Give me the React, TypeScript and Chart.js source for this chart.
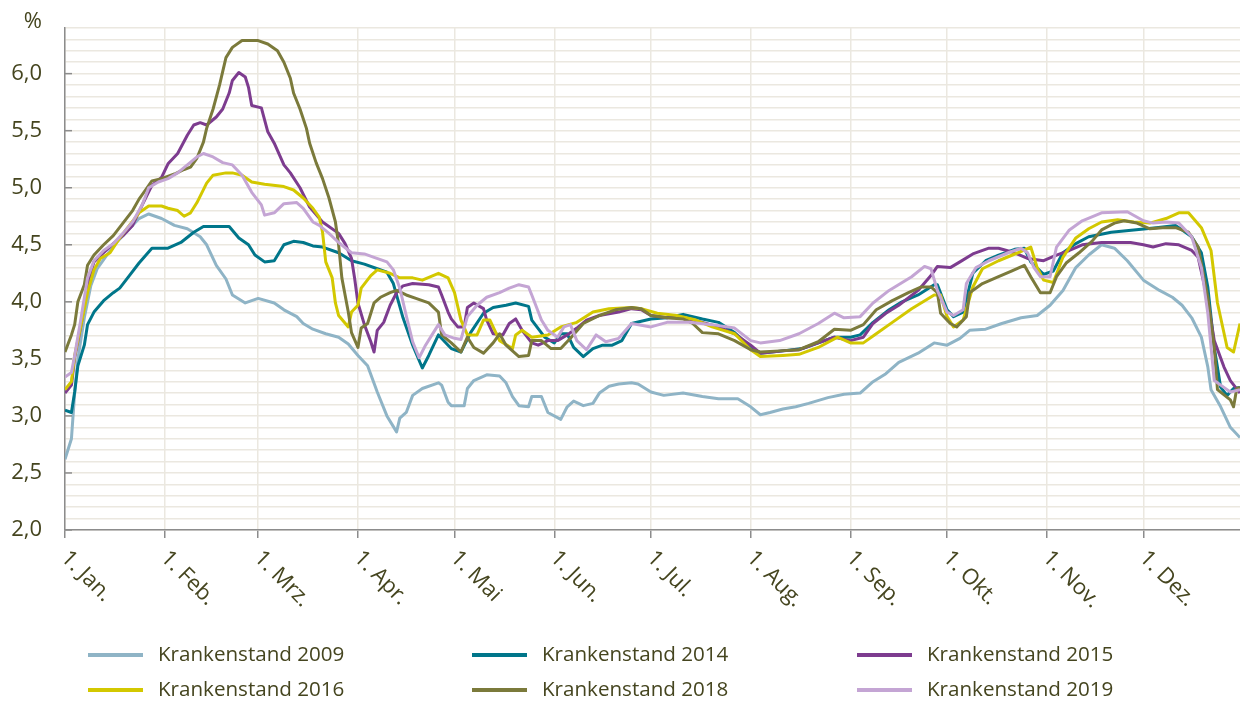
import React, { useEffect, useRef } from 'react';
import Chart from 'chart.js/auto';

// ---------- axis labels ----------
const MONTH_LABELS = ['1. Jan.', '1. Feb.', '1. Mrz.', '1. Apr.', '1. Mai', '1. Jun.', '1. Jul.', '1. Aug.', '1. Sep.', '1. Okt.', '1. Nov.', '1. Dez.'];
const MONTH_START_DAYS = [0, 31, 60, 91, 121, 152, 182, 213, 244, 274, 305, 335];
const Y_LABEL_VALUES = [2.0, 2.5, 3.0, 3.5, 4.0, 4.5, 5.0, 5.5, 6.0];
const Y_MIN = 2.0;
const Y_MAX = 6.4;
const X_MAX = 365;
const UNIT_LABEL = '%';

// ---------- series ----------
const SERIES_NAMES = ['Krankenstand 2009', 'Krankenstand 2014', 'Krankenstand 2015', 'Krankenstand 2016', 'Krankenstand 2018', 'Krankenstand 2019'];

const days2009 = [0,2,3,4,6,8,10,13,16,19,23,26,30,34,38,42,44,47,50,52,56,60,65,68,72,74,77,81,85,88,91,94,97,100,103,104,106,108,111,116,117,119,120,124,125,127,131,135,137,139,141,144,145,148,150,154,156,158,161,164,166,169,172,176,178,182,186,192,198,203,209,213,216,219,223,227,231,237,242,247,251,255,259,265,270,274,278,281,286,291,297,302,306,310,314,318,322,326,330,335,340,344,347,350,353,355,356,359,362,365];
const values2009 = [2.62,2.8,3.2,3.5,3.86,4.14,4.29,4.41,4.52,4.61,4.73,4.77,4.73,4.67,4.64,4.57,4.5,4.32,4.2,4.06,3.99,4.03,3.99,3.93,3.87,3.81,3.76,3.72,3.69,3.63,3.53,3.44,3.21,3.0,2.86,2.98,3.03,3.18,3.24,3.29,3.27,3.12,3.09,3.09,3.24,3.31,3.36,3.35,3.29,3.17,3.09,3.08,3.17,3.17,3.03,2.97,3.08,3.13,3.09,3.11,3.2,3.26,3.28,3.29,3.28,3.21,3.18,3.2,3.17,3.15,3.15,3.08,3.01,3.03,3.06,3.08,3.11,3.16,3.19,3.2,3.3,3.37,3.47,3.55,3.64,3.62,3.68,3.75,3.76,3.81,3.86,3.88,3.97,4.1,4.3,4.41,4.5,4.47,4.36,4.19,4.1,4.04,3.97,3.86,3.69,3.43,3.23,3.08,2.9,2.81];

const days2014 = [0,2,3,4,6,7,9,12,15,17,20,23,27,32,36,40,43,51,54,57,59,62,65,68,71,74,77,80,85,89,93,97,100,102,105,108,111,113,116,119,120,123,126,130,133,137,140,144,145,149,152,154,156,158,161,164,167,170,173,176,182,187,192,198,203,208,213,216,223,229,234,239,244,247,251,256,260,265,270,271,274,276,279,282,286,290,295,298,300,304,307,310,314,318,325,332,339,345,350,353,355,357,359,361,363,365];
const values2014 = [3.05,3.03,3.21,3.44,3.62,3.8,3.91,4.01,4.08,4.12,4.23,4.34,4.47,4.47,4.52,4.61,4.66,4.66,4.56,4.5,4.41,4.35,4.36,4.5,4.53,4.52,4.49,4.48,4.43,4.36,4.33,4.29,4.26,4.16,3.86,3.62,3.42,3.53,3.71,3.62,3.59,3.56,3.73,3.9,3.95,3.97,3.99,3.96,3.84,3.69,3.64,3.72,3.72,3.6,3.52,3.59,3.62,3.62,3.66,3.81,3.85,3.86,3.89,3.85,3.82,3.73,3.6,3.55,3.57,3.59,3.64,3.69,3.69,3.71,3.82,3.93,4.0,4.06,4.15,4.15,3.93,3.87,3.91,4.25,4.36,4.41,4.46,4.47,4.35,4.24,4.27,4.43,4.51,4.57,4.61,4.63,4.65,4.67,4.57,4.43,4.13,3.6,3.25,3.18,3.24,3.25];

const days2015 = [0,2,3,5,7,9,12,15,18,21,24,27,30,32,35,38,40,42,44,47,49,51,52,54,56,57,58,61,63,65,68,70,73,76,80,85,87,89,90,91,93,95,96,97,99,101,103,105,108,113,116,117,119,120,122,124,125,127,130,131,133,136,138,140,142,145,147,150,153,156,159,162,166,172,176,179,182,187,192,198,203,208,213,216,223,228,234,239,244,248,251,255,259,265,269,271,275,278,282,287,290,295,299,304,308,312,316,322,331,335,338,342,346,350,352,355,357,360,362,365];
const values2015 = [3.2,3.27,3.51,3.8,4.15,4.35,4.43,4.51,4.58,4.67,4.85,5.02,5.09,5.21,5.3,5.46,5.55,5.57,5.55,5.62,5.69,5.83,5.94,6.01,5.97,5.88,5.72,5.7,5.49,5.39,5.2,5.13,5.0,4.83,4.7,4.6,4.51,4.38,4.2,3.99,3.8,3.65,3.56,3.75,3.82,3.97,4.08,4.14,4.16,4.15,4.13,4.06,3.91,3.85,3.78,3.78,3.95,3.99,3.94,3.84,3.72,3.71,3.81,3.85,3.75,3.64,3.62,3.66,3.66,3.71,3.77,3.84,3.88,3.91,3.94,3.93,3.88,3.86,3.86,3.82,3.78,3.72,3.62,3.55,3.57,3.58,3.64,3.69,3.66,3.69,3.81,3.9,3.97,4.1,4.23,4.31,4.3,4.35,4.42,4.47,4.47,4.43,4.38,4.36,4.41,4.45,4.5,4.52,4.52,4.5,4.48,4.51,4.5,4.45,4.39,4.01,3.66,3.43,3.31,3.2];

const days2016 = [0,2,3,5,7,9,11,14,17,20,23,26,30,32,35,37,39,41,44,46,50,52,55,58,62,68,71,74,77,79,80,81,83,84,85,88,89,91,92,95,97,101,104,108,111,116,119,121,123,125,128,130,132,135,139,140,142,145,150,154,159,164,169,176,179,184,190,196,201,208,213,216,223,228,234,240,244,248,252,257,263,270,272,274,276,279,282,285,290,296,300,302,304,307,310,314,318,322,327,332,337,342,346,349,353,356,358,361,363,365];
const values2016 = [3.23,3.3,3.53,3.8,4.08,4.28,4.38,4.43,4.56,4.67,4.78,4.84,4.84,4.82,4.8,4.75,4.78,4.87,5.04,5.11,5.13,5.13,5.11,5.05,5.03,5.01,4.98,4.91,4.82,4.74,4.61,4.35,4.21,3.99,3.88,3.78,3.91,3.97,4.12,4.23,4.28,4.25,4.21,4.21,4.19,4.25,4.21,4.08,3.84,3.71,3.71,3.84,3.84,3.66,3.59,3.71,3.75,3.69,3.71,3.78,3.82,3.91,3.94,3.95,3.94,3.9,3.88,3.84,3.78,3.72,3.58,3.52,3.53,3.54,3.6,3.69,3.64,3.64,3.72,3.82,3.94,4.06,4.06,3.87,3.78,3.84,4.13,4.29,4.36,4.43,4.48,4.3,4.19,4.17,4.39,4.56,4.64,4.7,4.72,4.7,4.69,4.73,4.78,4.78,4.65,4.45,3.99,3.6,3.56,3.81];

const days2018 = [0,2,3,4,6,7,9,12,15,18,21,23,25,27,30,34,37,39,41,43,44,46,48,50,52,55,60,63,66,68,70,71,73,75,76,78,80,82,84,85,86,88,89,91,92,94,96,98,101,103,106,109,113,116,117,120,123,125,127,130,133,135,137,141,144,145,148,151,154,157,161,166,171,176,179,182,187,192,195,198,203,208,213,216,222,228,234,239,244,248,252,257,262,266,269,271,272,275,277,280,281,285,290,294,298,300,303,306,308,311,315,319,322,326,329,333,337,341,345,349,352,355,357,358,362,363,364,365];
const values2018 = [3.56,3.71,3.8,4.0,4.15,4.32,4.41,4.5,4.58,4.69,4.8,4.9,4.98,5.06,5.08,5.12,5.16,5.18,5.26,5.4,5.52,5.69,5.9,6.14,6.23,6.29,6.29,6.26,6.2,6.1,5.96,5.83,5.69,5.52,5.39,5.22,5.08,4.91,4.7,4.5,4.21,3.91,3.73,3.6,3.77,3.81,3.99,4.04,4.08,4.1,4.06,4.03,3.99,3.91,3.71,3.64,3.56,3.69,3.6,3.55,3.64,3.72,3.62,3.52,3.53,3.66,3.66,3.59,3.59,3.68,3.81,3.88,3.93,3.95,3.94,3.88,3.86,3.85,3.81,3.73,3.72,3.66,3.58,3.56,3.57,3.58,3.65,3.76,3.75,3.8,3.93,4.01,4.08,4.13,4.13,4.08,3.9,3.81,3.78,3.87,4.08,4.16,4.22,4.27,4.32,4.22,4.08,4.08,4.22,4.34,4.43,4.53,4.63,4.69,4.71,4.69,4.64,4.65,4.65,4.61,4.48,4.04,3.6,3.23,3.14,3.08,3.24,3.25];

const days2019 = [0,2,3,5,7,9,12,15,18,21,24,26,29,32,35,38,41,43,46,49,52,55,58,61,62,65,68,72,74,77,79,82,85,89,93,96,100,102,104,106,108,110,112,114,116,118,121,123,125,128,131,135,138,141,144,145,148,150,153,155,157,159,162,165,168,172,176,182,187,194,201,208,213,216,222,228,234,239,242,247,251,256,263,267,269,271,274,276,279,280,283,287,293,297,299,301,303,306,308,312,316,322,330,335,338,342,346,350,353,355,357,360,362,365];
const values2019 = [3.34,3.38,3.53,3.86,4.21,4.36,4.45,4.51,4.6,4.7,4.85,5.0,5.05,5.08,5.13,5.2,5.27,5.3,5.27,5.22,5.2,5.11,4.96,4.85,4.76,4.78,4.86,4.87,4.82,4.7,4.67,4.6,4.52,4.43,4.42,4.39,4.35,4.28,4.12,3.88,3.65,3.51,3.62,3.71,3.8,3.71,3.68,3.67,3.87,3.97,4.04,4.08,4.12,4.15,4.13,4.06,3.84,3.75,3.69,3.78,3.8,3.66,3.58,3.71,3.65,3.68,3.81,3.78,3.82,3.82,3.8,3.77,3.66,3.64,3.66,3.72,3.81,3.9,3.86,3.87,3.99,4.1,4.22,4.31,4.29,4.1,3.91,3.88,3.93,4.16,4.3,4.36,4.43,4.47,4.43,4.3,4.22,4.22,4.48,4.63,4.71,4.78,4.79,4.71,4.69,4.7,4.69,4.57,4.3,3.9,3.31,3.25,3.21,3.23];

const SERIES_DAYS = [days2009, days2014, days2015, days2016, days2018, days2019];
const SERIES_VALUES = [values2009, values2014, values2015, values2016, values2018, values2019];
const SERIES_COLORS = ['#8fb4c6', '#00768a', '#7d3c8f', '#d3c800', '#7b7a3b', '#c4a5d4'];
const SERIES_ORDER = [5, 4, 3, 2, 1, 0];

// ---------- styling ----------
const TEXT_COLOR = '#45451f';
const GRID_COLOR = '#ebe8e0';
const AXIS_COLOR = '#8c8c8c';
const FONT_FAMILY = '"Open Sans", "DejaVu Sans", sans-serif';
const AXIS_FONT = `400 22px ${FONT_FAMILY}`;
const LEGEND_FONT = `400 20.6px ${FONT_FAMILY}`;

const textPlugin = {
  id: 'customText',
  afterDraw(chart: any) {
    const ctx = chart.ctx as CanvasRenderingContext2D;
    const xs = chart.scales.x;
    const ys = chart.scales.y;
    ctx.save();
    ctx.fillStyle = TEXT_COLOR;
    ctx.font = AXIS_FONT;

    // y labels + short inward ticks
    ctx.textAlign = 'right';
    ctx.textBaseline = 'middle';
    Y_LABEL_VALUES.forEach((v) => {
      const y = ys.getPixelForValue(v);
      ctx.fillText(v.toFixed(1).replace('.', ','), xs.left - 23, y);
      ctx.strokeStyle = AXIS_COLOR;
      ctx.lineWidth = 1.5;
      ctx.beginPath();
      ctx.moveTo(xs.left, y);
      ctx.lineTo(xs.left + 7, y);
      ctx.stroke();
    });
    ctx.fillText(UNIT_LABEL, xs.left - 23, ys.top - 6);

    // rotated x labels
    ctx.textAlign = 'left';
    ctx.textBaseline = 'alphabetic';
    MONTH_START_DAYS.forEach((d, i) => {
      const x = xs.getPixelForValue(d);
      ctx.save();
      ctx.translate(x - 5, ys.bottom + 29);
      ctx.rotate(Math.PI / 4);
      ctx.fillText(MONTH_LABELS[i], 0, 0);
      ctx.restore();
    });

    // legend (3 columns x 2 rows)
    ctx.font = LEGEND_FONT;
    const colX = [88, 472, 857];
    const rowY = [655, 690];
    ctx.textBaseline = 'middle';
    SERIES_NAMES.forEach((name, i) => {
      const cx = colX[i % 3];
      const cy = rowY[Math.floor(i / 3)];
      ctx.strokeStyle = SERIES_COLORS[i];
      ctx.lineWidth = 4;
      ctx.beginPath();
      ctx.moveTo(cx, cy);
      ctx.lineTo(cx + 55, cy);
      ctx.stroke();
      ctx.fillText(name, cx + 70, cy);
    });
    ctx.restore();
  },
};

export default function App() {
  const canvasRef = useRef<HTMLCanvasElement | null>(null);

  useEffect(() => {
    if (!canvasRef.current) return;
    const datasets = SERIES_NAMES.map((name, i) => ({
      label: name,
      data: SERIES_DAYS[i].map((d, j) => ({ x: d, y: SERIES_VALUES[i][j] })),
      borderColor: SERIES_COLORS[i],
      backgroundColor: SERIES_COLORS[i],
      borderWidth: 3,
      pointRadius: 0,
      tension: 0,
      order: SERIES_ORDER[i],
      borderJoinStyle: 'round' as const,
    }));

    const chart = new Chart(canvasRef.current, {
      type: 'line',
      data: { datasets },
      options: {
        animation: false,
        responsive: false,
        devicePixelRatio: 1,
        layout: { padding: { top: 28, left: 0, right: 0, bottom: 0 } },
        plugins: { legend: { display: false }, tooltip: { enabled: false } },
        scales: {
          x: {
            type: 'linear',
            min: 0,
            max: X_MAX,
            afterBuildTicks: (scale: any) => {
              scale.ticks = MONTH_START_DAYS.map((v) => ({ value: v }));
            },
            afterFit: (scale: any) => {
              scale.height = 172;
            },
            ticks: { display: false },
            grid: { color: GRID_COLOR, lineWidth: 1.5, drawTicks: true, tickLength: 8, tickColor: AXIS_COLOR, tickWidth: 1.5 },
            border: { color: AXIS_COLOR, width: 1.5 },
          },
          y: {
            type: 'linear',
            min: Y_MIN,
            max: Y_MAX,
            afterBuildTicks: (scale: any) => {
              const t = [];
              for (let k = Math.round(Y_MIN * 10); k <= Math.round(Y_MAX * 10); k++) t.push({ value: k / 10 });
              scale.ticks = t;
            },
            afterFit: (scale: any) => {
              scale.width = 65;
            },
            ticks: { display: false },
            grid: { color: GRID_COLOR, lineWidth: 1.5, drawTicks: false },
            border: { color: AXIS_COLOR, width: 1.5 },
          },
        },
      },
      plugins: [textPlugin],
    });
    return () => chart.destroy();
  }, []);

  return (
    <div style={{ position: 'absolute', left: 0, top: 0, width: 1240, height: 702, background: '#ffffff' }}>
      <canvas ref={canvasRef} width={1240} height={702} />
    </div>
  );
}
